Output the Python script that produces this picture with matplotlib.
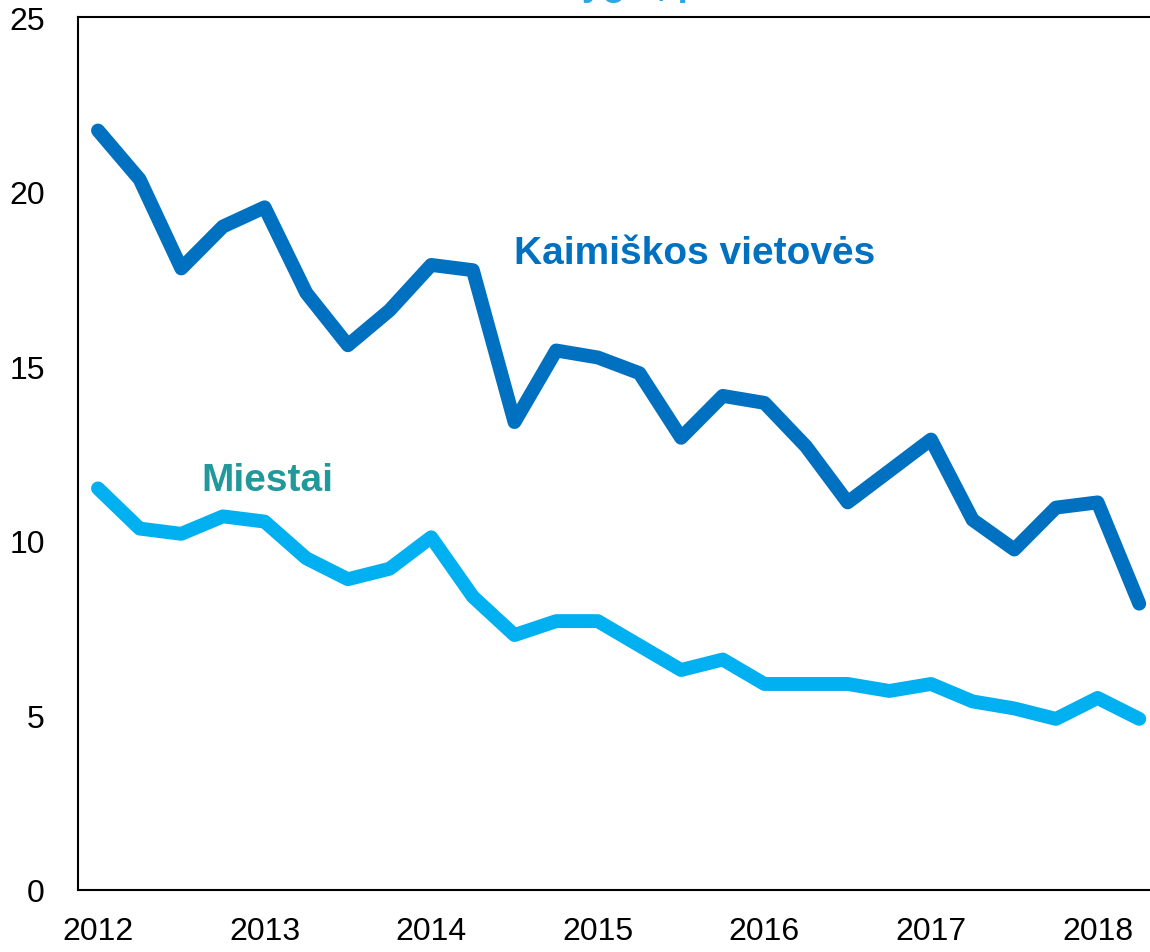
import matplotlib
matplotlib.use('Agg')
import matplotlib.pyplot as plt
from matplotlib import font_manager

# Ketvirčiai nuo 2012 I iki 2018 II
years = [2012, 2013, 2014, 2015, 2016, 2017, 2018]
quarters = [2012 + i * 0.25 for i in range(26)]

kaimas = [21.75, 20.35, 17.8, 19.0, 19.55, 17.1, 15.6, 16.6, 17.9, 17.75,
          13.4, 15.45, 15.25, 14.8, 12.95, 14.15, 13.95, 12.7, 11.1, 12.0,
          12.9, 10.6, 9.75, 10.95, 11.1, 8.2]
miestai = [11.5, 10.35, 10.2, 10.7, 10.55, 9.5, 8.9, 9.2, 10.1, 8.4,
           7.3, 7.7, 7.7, 7.0, 6.3, 6.6, 5.9, 5.9, 5.9, 5.7,
           5.9, 5.4, 5.2, 4.9, 5.5, 4.9]

yticks = [0, 5, 10, 15, 20, 25]

# siauras šriftas ašims, jei yra
names = {f.name for f in font_manager.fontManager.ttflist}
narrow = 'Liberation Sans Narrow' if 'Liberation Sans Narrow' in names else 'Liberation Sans'

fig = plt.figure(figsize=(11.5, 9.53), dpi=100)
ax = fig.add_axes([78 / 1150, 62 / 953, (1165 - 78) / 1150, 873 / 953])

ax.plot(quarters, kaimas, color='#0070C0', lw=10, solid_capstyle='round', solid_joinstyle='round')
ax.plot(quarters, miestai, color='#00B0F0', lw=10, solid_capstyle='round', solid_joinstyle='round')

ax.set_ylim(0, 25)
ax.set_xlim(2012 - 20 / 166.6, 2012 + (1165 - 98) / 166.6)
ax.set_yticks(yticks)
ax.set_xticks(years)
ax.set_yticklabels([str(v) for v in yticks], fontfamily=narrow, fontsize=23)
ax.set_xticklabels([str(v) for v in years], fontfamily=narrow, fontsize=23)
ax.tick_params(axis='both', length=0)
ax.tick_params(axis='y', pad=24)
ax.tick_params(axis='x', pad=19)

for s in ax.spines.values():
    s.set_linewidth(1.5)
    s.set_color('black')

# užrašai prie linijų
ax.text(2014.5, 17.95, 'Kaimiškos vietovės', color='#0070C0', fontsize=28,
        fontweight='bold', fontfamily='Liberation Sans', va='baseline')
ax.text(2012.62, 11.45, 'Miestai', color='#21999A', fontsize=28,
        fontweight='bold', fontfamily='Liberation Sans', va='baseline')

# viršuje nukirptas pavadinimas
fig.text(409 / 1150, 1 + 5 / 953, 'Nedarbo lygis, proc.', color='#29A9E0', fontsize=27,
         fontweight='bold', fontfamily='Liberation Sans', va='baseline', ha='left')

fig.savefig('out.png', dpi=100)
